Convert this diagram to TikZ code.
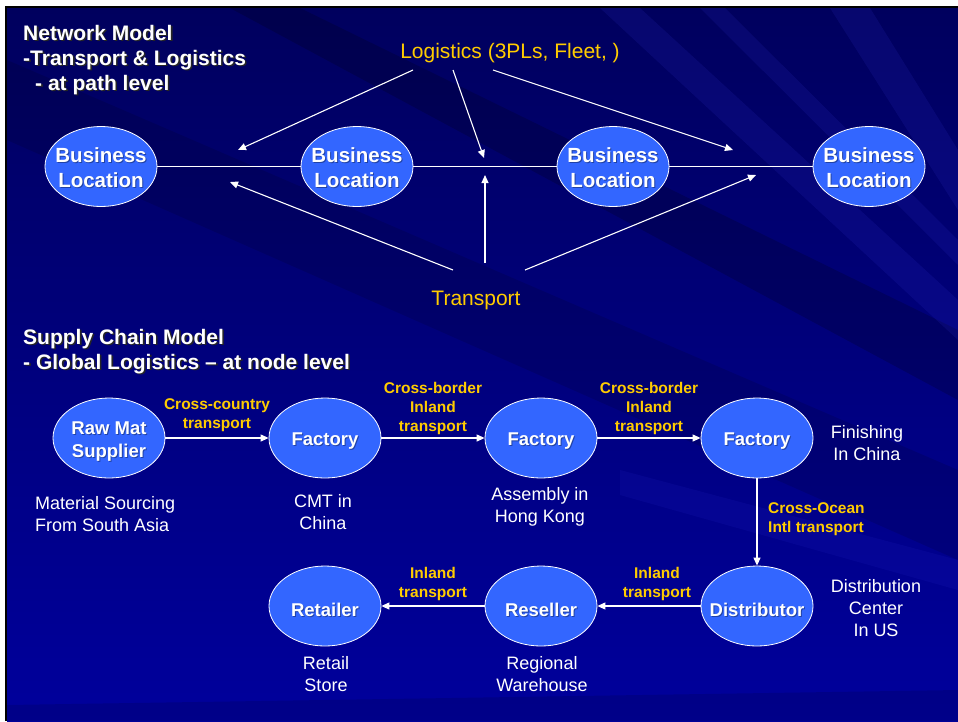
\documentclass[tikz,border=0pt]{standalone}
\usepackage{fontspec}
\setmainfont{Liberation Sans}
\usetikzlibrary{arrows.meta,shapes.geometric}
\definecolor{bgtop}{HTML}{00005E}
\definecolor{bgbot}{HTML}{00009C}
\definecolor{nodeblue}{HTML}{3366FF}
\definecolor{gold}{HTML}{FFCC00}
\newcommand\shtxt[1]{\makebox[0pt][l]{\raisebox{-1.6pt}{\hspace{1.6pt}\textcolor{black!85}{#1}}}#1}
\newcommand\shlite[1]{\makebox[0pt][l]{\raisebox{-1pt}{\hspace{1pt}\textcolor{black!35!nodeblue}{#1}}}#1}
\begin{document}
\begin{tikzpicture}[x=1pt,y=-1pt,
  bubble/.style={ellipse,draw=white,line width=0.8pt,fill=nodeblue,minimum width=112,minimum height=80,inner sep=0pt},
  intext/.style={text=white,font=\bfseries\fontsize{20.5}{25}\selectfont,align=center,yshift=-1.5pt},
  scin/.style={intext,font=\bfseries\fontsize{18.5}{23}\selectfont,yshift=-2.5pt},
  title/.style={text=white,font=\bfseries\fontsize{21}{25}\selectfont,align=left,anchor=west,inner sep=0pt},
  yel/.style={text=gold,font=\fontsize{21}{25}\selectfont,inner sep=0pt},
  elab/.style={text=gold,font=\bfseries\fontsize{15.5}{19}\selectfont,align=center,inner sep=0pt},
  desc/.style={text=white,font=\fontsize{18}{22}\selectfont,align=center,inner sep=0pt},
  wline/.style={draw=white,line width=1.1pt},
  arr/.style={wline,-{Triangle[length=8pt,width=7pt]}}]
\useasboundingbox (0,0) rectangle (958,721);
% slide frame and background
\fill[white] (0,0) rectangle (958,721);
\fill[black] (4.5,5.5) rectangle (958,721);
\shade[top color=bgtop,bottom color=bgbot,middle color=bgtop!50!bgbot] (7,8) rectangle (958,721);
\begin{scope}
\clip (7,8) rectangle (958,721);
\fill[black,opacity=0.18] (230,8) -- (300,8) -- (958,330) -- (958,400) -- cycle;
\fill[black,opacity=0.12] (7,60) -- (7,140) -- (958,560) -- (958,470) -- cycle;
\fill[blue!70!white,opacity=0.10] (600,8) -- (640,8) -- (958,300) -- (958,340) -- cycle;
\fill[blue!70!white,opacity=0.10] (830,8) -- (870,8) -- (958,150) -- (958,210) -- cycle;
\fill[blue!70!white,opacity=0.10] (700,8) -- (725,8) -- (958,240) -- (958,265) -- cycle;
\fill[blue!70!white,opacity=0.08] (620,470) -- (958,560) -- (958,590) -- (620,495) -- cycle;
\fill[black,opacity=0.12] (7,705) -- (958,690) -- (958,721) -- (7,721) -- cycle;
\end{scope}

% ---------- Network model ----------
\node[title] (t1) at (23,60.5) {\shtxt{Network Model}\\\shtxt{-Transport \& Logistics}\\\hspace*{12pt}\shtxt{- at path level}};
\node[yel] (logi) at (510,53.5) {Logistics (3PLs, Fleet, )};
\node[yel] (trans) at (476,300.5) {Transport};

\node[bubble,label={[intext]center:{\shlite{Business}\\\shlite{Location}}}] (b1) at (101,166.5) {};
\node[bubble,label={[intext]center:{\shlite{Business}\\\shlite{Location}}}] (b2) at (357,166.5) {};
\node[bubble,label={[intext]center:{\shlite{Business}\\\shlite{Location}}}] (b3) at (613,166.5) {};
\node[bubble,label={[intext]center:{\shlite{Business}\\\shlite{Location}}}] (b4) at (869,166.5) {};

\draw[wline] (b1) -- (b2);
\draw[wline] (b2) -- (b3);
\draw[wline] (b3) -- (b4);

\coordinate (ls1) at (413,70);
\coordinate (ls2) at (453,70);
\coordinate (ls3) at (493,70);
\coordinate (le1) at (238,150);
\coordinate (le2) at (484,158);
\coordinate (le3) at (733,150);
\draw[arr] (ls1) -- (le1);
\draw[arr] (ls2) -- (le2);
\draw[arr] (ls3) -- (le3);

\coordinate (ts1) at (453,270);
\coordinate (ts2) at (485,263);
\coordinate (ts3) at (525,270);
\coordinate (te1) at (230,182);
\coordinate (te2) at (485,175);
\coordinate (te3) at (756,175);
\draw[arr] (ts1) -- (te1);
\draw[arr] (ts2) -- (te2);
\draw[arr] (ts3) -- (te3);

% ---------- Supply chain model ----------
\node[title] (t2) at (23,352) {\shtxt{Supply Chain Model}\\\shtxt{- Global Logistics -- at node level}};

\node[bubble,label={[scin]center:{\shlite{Raw Mat}\\\shlite{Supplier}}}] (raw) at (109,438) {};
\node[bubble,label={[scin]center:\shlite{Factory}}] (f1) at (325,438) {};
\node[bubble,label={[scin]center:\shlite{Factory}}] (f2) at (541,438) {};
\node[bubble,label={[scin]center:\shlite{Factory}}] (f3) at (757,438) {};
\node[bubble,label={[scin]center:\shlite{Distributor}}] (dist) at (757,606) {};
\node[bubble,label={[scin]center:\shlite{Reseller}}] (res) at (541,606) {};
\node[bubble,label={[scin]center:\shlite{Retailer}}] (ret) at (325,606) {};

\draw[arr] (raw) -- (f1);
\draw[arr] (f1) -- (f2);
\draw[arr] (f2) -- (f3);
\draw[arr] (f3) -- (dist);
\draw[arr] (dist) -- (res);
\draw[arr] (res) -- (ret);

\node[elab] (e1) at (217,415) {Cross-country\\transport};
\node[elab] (e2) at (433,408) {Cross-border\\Inland\\transport};
\node[elab] (e3) at (649,408) {Cross-border\\Inland\\transport};
\node[elab,align=left,anchor=west] (e4) at (768,519.5) {Cross-Ocean\\Intl transport};
\node[elab] (e5) at (657,583.5) {Inland\\transport};
\node[elab] (e6) at (433,583.5) {Inland\\transport};

\node[desc,align=left,anchor=west] (d1) at (35,514) {Material Sourcing\\From South Asia};
\node[desc] (d2) at (323,512.5) {CMT in\\China};
\node[desc] (d3) at (540,506.5) {Assembly in\\Hong Kong};
\node[desc] (d4) at (867,443) {Finishing\\In China};
\node[desc] (d5) at (876,608.5) {Distribution\\Center\\In US};
\node[desc] (d6) at (326,674) {Retail\\Store};
\node[desc] (d7) at (542,674) {Regional\\Warehouse};
\end{tikzpicture}
\end{document}
